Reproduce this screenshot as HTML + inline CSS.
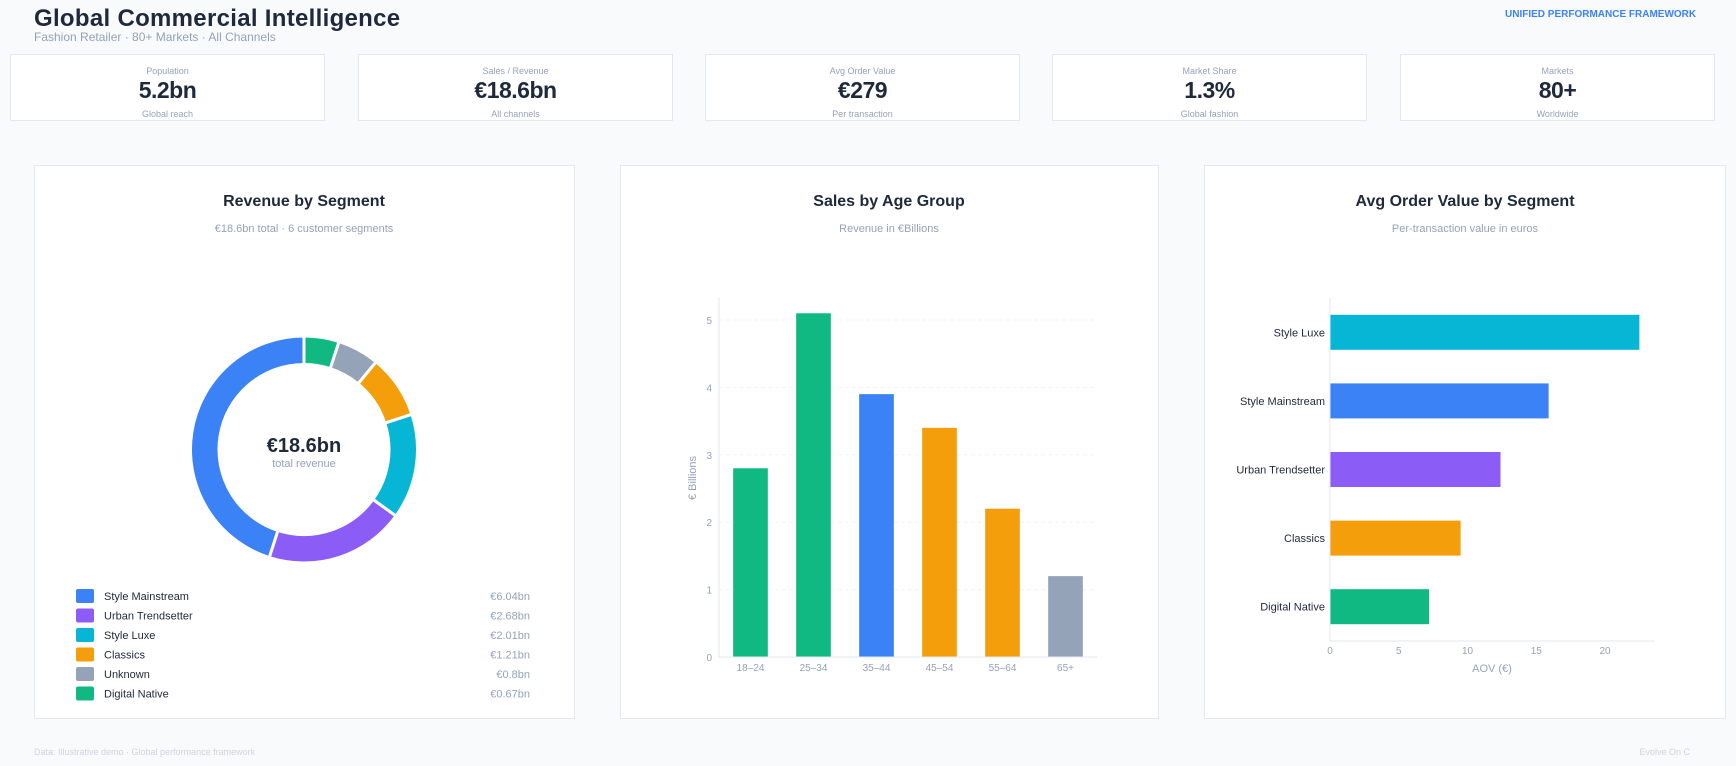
<!DOCTYPE html>
<html><head><meta charset="utf-8"><style>
body{margin:0;width:1736px;height:766px;background:#f8fafc;font-family:"Liberation Sans",sans-serif;position:relative;overflow:hidden;color:#1e293b}
.abs{position:absolute}
.kpi{position:absolute;top:54px;height:67px;width:315px;background:#fff;border:1px solid #e2e8f0;box-sizing:border-box;text-align:center}
.kpi .l{position:absolute;top:11px;width:100%;font-size:9px;color:#94a3b8}
.kpi .v{position:absolute;top:22px;width:100%;font-size:23px;font-weight:bold;color:#1e293b;letter-spacing:-0.5px}
.kpi .s{position:absolute;top:54px;width:100%;font-size:9px;color:#94a3b8}
.card{position:absolute;top:165px;height:554px;background:#fff;border:1px solid #e2e8f0;box-sizing:border-box}
svg text{font-family:"Liberation Sans",sans-serif}
</style></head><body>
<div class="abs" style="left:34px;top:5px;font-size:24px;letter-spacing:0.3px;font-weight:bold;color:#1e293b">Global Commercial Intelligence</div>
<div class="abs" style="left:34px;top:30px;font-size:12px;color:#94a3b8">Fashion Retailer · 80+ Markets · All Channels</div>
<div class="abs" style="left:1505px;top:9px;font-size:10px;font-weight:bold;color:#3b82f6">UNIFIED PERFORMANCE FRAMEWORK</div>

<div class="kpi" style="left:10px"><div class="l">Population</div><div class="v">5.2bn</div><div class="s">Global reach</div></div>
<div class="kpi" style="left:358px"><div class="l">Sales / Revenue</div><div class="v">€18.6bn</div><div class="s">All channels</div></div>
<div class="kpi" style="left:705px"><div class="l">Avg Order Value</div><div class="v">€279</div><div class="s">Per transaction</div></div>
<div class="kpi" style="left:1052px"><div class="l">Market Share</div><div class="v">1.3%</div><div class="s">Global fashion</div></div>
<div class="kpi" style="left:1400px"><div class="l">Markets</div><div class="v">80+</div><div class="s">Worldwide</div></div>

<div class="card" style="left:34px;width:541px"></div>
<div class="card" style="left:620px;width:539px"></div>
<div class="card" style="left:1204px;width:522px"></div>

<svg id="svg" width="1736" height="766" style="position:absolute;left:0;top:0">
<text x="304" y="206" text-anchor="middle" font-size="16" font-weight="bold" fill="#1e293b">Revenue by Segment</text>
<text x="304" y="232" text-anchor="middle" font-size="11" fill="#94a3b8">€18.6bn total · 6 customer segments</text>
<text x="304" y="452" text-anchor="middle" font-size="20" font-weight="bold" fill="#1e293b">€18.6bn</text>
<text x="304" y="467" text-anchor="middle" font-size="11" fill="#94a3b8">total revenue</text>
<text x="889" y="206" text-anchor="middle" font-size="16" font-weight="bold" fill="#1e293b">Sales by Age Group</text>
<text x="889" y="232" text-anchor="middle" font-size="11" fill="#94a3b8">Revenue in €Billions</text>
<text x="1465" y="206" text-anchor="middle" font-size="16" font-weight="bold" fill="#1e293b">Avg Order Value by Segment</text>
<text x="1465" y="232" text-anchor="middle" font-size="11" fill="#94a3b8">Per-transaction value in euros</text>
<text x="34" y="755" font-size="9" fill="#cbd5e1">Data: Illustrative demo · Global performance framework</text>
<text x="1690" y="755" text-anchor="end" font-size="9" fill="#cbd5e1">Evolve On C</text>
<g id="donut"></g><g id="legend"></g><g id="bars"></g><g id="hbars"></g>
</svg>
<script>
const NS='http://www.w3.org/2000/svg';
function mk(p,t,a){const e=document.createElementNS(NS,t);for(const k in a)e.setAttribute(k,a[k]);p.appendChild(e);return e;}
const segNames=['Style Mainstream','Urban Trendsetter','Style Luxe','Classics','Unknown','Digital Native'];
const segValues=[6.04,2.68,2.01,1.21,0.8,0.67];
const segLabels=['€6.04bn','€2.68bn','€2.01bn','€1.21bn','€0.8bn','€0.67bn'];
const segColors=['#3b82f6','#8b5cf6','#06b6d4','#f59e0b','#94a3b8','#10b981'];
const ageCats=['18–24','25–34','35–44','45–54','55–64','65+'];
const ageValues=[2.8,5.1,3.9,3.4,2.2,1.2];
const ageColors=['#10b981','#10b981','#3b82f6','#f59e0b','#f59e0b','#94a3b8'];
const ageTicks=[0,1,2,3,4,5];
const aovCats=['Style Luxe','Style Mainstream','Urban Trendsetter','Classics','Digital Native'];
const aovValues=[22.5,15.9,12.4,9.5,7.2];
const aovColors=['#06b6d4','#3b82f6','#8b5cf6','#f59e0b','#10b981'];
const aovTicks=[0,5,10,15,20];

(function(){
const g=document.getElementById('donut');const cx=304,cy=449.5,R=113.5,r=85;
const total=segValues.reduce((a,b)=>a+b,0);
let a=0;
for(let k=segValues.length-1;k>=0;k--){
 const a0=a,a1=a+segValues[k]/total*2*Math.PI;a=a1;
 const p=(ang,rad)=>[cx+rad*Math.sin(ang),cy-rad*Math.cos(ang)];
 const large=(a1-a0)>Math.PI?1:0;
 const [x0,y0]=p(a0,R),[x1,y1]=p(a1,R),[x2,y2]=p(a1,r),[x3,y3]=p(a0,r);
 const e=mk(g,'path',{d:`M${x0} ${y0}A${R} ${R} 0 ${large} 1 ${x1} ${y1}L${x2} ${y2}A${r} ${r} 0 ${large} 0 ${x3} ${y3}Z`,fill:segColors[k],stroke:'#fff','stroke-width':3});
 
 
}
const lg=document.getElementById('legend');
segNames.forEach((n,i)=>{
 const y=596+i*19.5;
 const s=mk(lg,'rect',{x:76,y:y-7,width:18,height:14,rx:2,fill:segColors[i]});
 
 
 const t=mk(lg,'text',{x:104,y:y+4,'font-size':11,fill:'#1e293b'});t.textContent=n;
 
 
 const v=mk(lg,'text',{x:530,y:y+4,'font-size':11,fill:'#94a3b8','text-anchor':'end'});v.textContent=segLabels[i];
 
 
});
})();

(function(){
const g=document.getElementById('bars');const x0=719,x1=1097,y0=657,yTop=297,unit=67.4;
const ys=v=>y0-v*unit;const band=(x1-x0)/ageCats.length;
ageTicks.forEach(t=>{
 if(t>0){const l=mk(g,'line',{x1:x0,x2:x1,y1:ys(t),y2:ys(t),stroke:'#f1f5f9','stroke-dasharray':'4 3'});
 
 }
 const tx=mk(g,'text',{x:712,y:ys(t)+4,'font-size':10,fill:'#94a3b8','text-anchor':'end'});tx.textContent=t;
 
 
});
ageCats.forEach((c,i)=>{
 const cx=x0+band*(i+0.5),w=band*0.55;
 const b=mk(g,'rect',{x:cx-w/2,y:ys(ageValues[i]),width:w,height:ageValues[i]*unit,fill:ageColors[i]});
 
 
 const t=mk(g,'text',{x:cx,y:671,'font-size':10,fill:'#94a3b8','text-anchor':'middle'});t.textContent=c;
 
 
});
const ax=mk(g,'path',{d:`M${x0} ${yTop}V${y0}H${x1}`,stroke:'#e2e8f0',fill:'none'});


const yt=mk(g,'text',{x:0,y:0,'font-size':11,fill:'#94a3b8','text-anchor':'middle',transform:'translate(696,478) rotate(-90)'});yt.textContent='€ Billions';


})();

(function(){
const g=document.getElementById('hbars');const x0=1330,x1=1655,y0=641,yTop=298,unit=13.75;
const xs=v=>x0+v*unit;const band=(y0-yTop)/aovCats.length;
aovCats.forEach((c,i)=>{
 const cy=yTop+band*(i+0.5),h=35;
 const b=mk(g,'rect',{x:x0,y:cy-h/2,width:aovValues[i]*unit,height:h,fill:aovColors[i]});
 
 
 const t=mk(g,'text',{x:1325,y:cy+4,'font-size':11,fill:'#1e293b','text-anchor':'end'});t.textContent=c;
 
 
});
aovTicks.forEach(t=>{
 const tx=mk(g,'text',{x:xs(t),y:654,'font-size':10,fill:'#94a3b8','text-anchor':'middle'});tx.textContent=t;
 
 
});
const ax=mk(g,'path',{d:`M${x0} ${yTop}V${y0}H${x1}`,stroke:'#e2e8f0',fill:'none'});


const xt=mk(g,'text',{x:1492,y:672,'font-size':11,fill:'#94a3b8','text-anchor':'middle'});xt.textContent='AOV (€)';


})();
</script>
</body></html>
